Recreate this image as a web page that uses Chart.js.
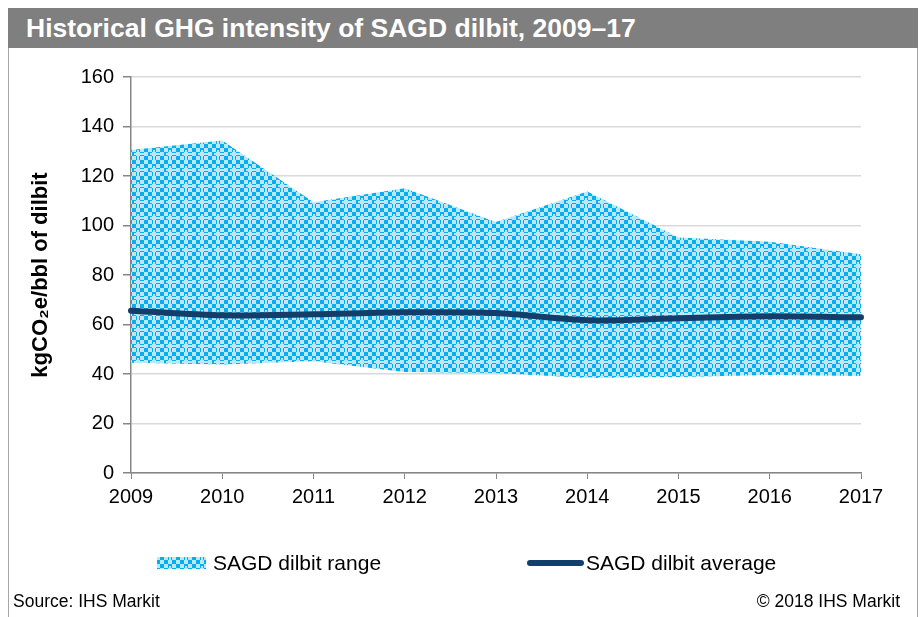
<!DOCTYPE html>
<html lang="en">
<head>
<meta charset="UTF-8">
<title>Historical GHG intensity of SAGD dilbit, 2009–17</title>
<script src="https://cdn.jsdelivr.net/npm/chart.js"></script>
<style>
  body { margin: 0; background: #fff; font-family: "Liberation Sans", Arial, sans-serif; }
  .quadro { position: relative; width: 921px; height: 617px; overflow: hidden; }
  .borda { position: absolute; left: 8px; top: 48px; width: 910px; bottom: 0; border-left: 1px solid #a6a6a6; border-right: 1px solid #a6a6a6; box-sizing: border-box; }
  canvas { position: absolute; left: 0; top: 0; }
  .titulo { position: absolute; left: 8px; top: 8px; width: 910px; height: 40px; background: #7f7f7f; color: #fff; font-weight: bold; font-size: 26.5px; line-height: 41px; padding-left: 18px; box-sizing: border-box; }
  .fonte { position: absolute; left: 13px; top: 591px; font-size: 17.5px; }
  .copy { position: absolute; right: 21px; top: 591px; font-size: 17.5px; }
</style>
</head>
<body>
<div class="quadro">
  <div class="borda"></div>
  <canvas id="grafico" width="921" height="617"></canvas>
  <div class="titulo">Historical GHG intensity of SAGD dilbit, 2009–17</div>
  <div class="fonte">Source: IHS Markit</div>
  <div class="copy">© 2018 IHS Markit</div>
</div>

<script>
// data
const years = ['2009', '2010', '2011', '2012', '2013', '2014', '2015', '2016', '2017'];
const rangeHigh = [130.5, 134.3, 109.4, 115.1, 101.4, 113.7, 95.2, 93.4, 88.4];
const rangeLow = [44.5, 43.8, 45.2, 40.8, 40.4, 38.4, 38.8, 39.6, 39.2];
const average = [65.6, 63.7, 64.1, 64.9, 64.6, 61.7, 62.5, 63.3, 62.9];
const seriesNames = ['SAGD dilbit range', 'SAGD dilbit average'];

const avgColor = '#133e69';
const fontFam = '"Liberation Sans", Arial, sans-serif';

// checkerboard fill with small light crosses, like the Excel pattern
function makePattern() {
  const c = document.createElement('canvas');
  c.width = 16; c.height = 16;
  const g = c.getContext('2d');
  g.fillStyle = '#bde6f8';
  g.fillRect(0, 0, 16, 16);
  g.fillStyle = '#00b0f0';
  for (let y = 0; y < 4; y++) {
    for (let x = 0; x < 4; x++) {
      if ((x + y) % 2 === 1) g.fillRect(x * 4, y * 4, 4, 4);
    }
  }
  g.fillStyle = '#bde6f8';
  g.fillRect(6, 9, 14, 2);
  g.fillRect(9, 6, 2, 14);
  return g.createPattern(c, 'repeat');
}
const rangePattern = makePattern();

const customLegend = {
  id: 'customLegend',
  afterDraw(chart) {
    const ctx = chart.ctx;
    ctx.save();
    ctx.fillStyle = rangePattern;
    ctx.fillRect(157, 557, 49, 12);
    ctx.font = '21px ' + fontFam;
    ctx.fillStyle = '#000';
    ctx.textBaseline = 'middle';
    ctx.fillText(seriesNames[0], 213, 564);
    ctx.strokeStyle = avgColor;
    ctx.lineWidth = 6;
    ctx.lineCap = 'round';
    ctx.beginPath();
    ctx.moveTo(530, 563);
    ctx.lineTo(581, 563);
    ctx.stroke();
    ctx.fillText(seriesNames[1], 586, 564);
    ctx.restore();
  }
};

new Chart(document.getElementById('grafico'), {
  type: 'line',
  data: {
    labels: years,
    datasets: [
      {
        label: seriesNames[1],
        data: average,
        borderColor: avgColor,
        borderWidth: 6,
        borderCapStyle: 'round',
        pointRadius: 0,
        tension: 0.3,
        fill: false,
        order: 0
      },
      {
        label: seriesNames[0] + ' high',
        data: rangeHigh,
        borderWidth: 0,
        borderColor: 'rgba(0,0,0,0)',
        backgroundColor: rangePattern,
        pointRadius: 0,
        tension: 0,
        fill: '+1',
        order: 1
      },
      {
        label: seriesNames[0] + ' low',
        data: rangeLow,
        borderWidth: 0,
        borderColor: 'rgba(0,0,0,0)',
        pointRadius: 0,
        tension: 0,
        fill: false,
        order: 2
      }
    ]
  },
  options: {
    responsive: false,
    animation: false,
    layout: { padding: { left: 24, top: 77, right: 60, bottom: 104 } },
    plugins: {
      legend: { display: false },
      tooltip: { enabled: false }
    },
    scales: {
      x: {
        afterFit: (s) => { s.height = 40; },
        border: { color: '#868686', width: 1.5 },
        grid: { drawOnChartArea: false, tickColor: '#868686', tickLength: 6 },
        ticks: { color: '#000', font: { family: fontFam, size: 20 }, padding: 6, maxRotation: 0 }
      },
      y: {
        min: 0,
        max: 160,
        afterFit: (s) => { s.width = 107; },
        border: { color: '#868686', width: 1.5 },
        grid: { color: '#d9d9d9', lineWidth: 1.5, tickColor: '#868686', tickLength: 8 },
        ticks: { stepSize: 20, color: '#000', font: { family: fontFam, size: 20 }, padding: 9 },
        title: {
          display: true,
          text: 'kgCO₂e/bbl of dilbit',
          color: '#000',
          font: { family: fontFam, size: 22, weight: 'bold' }
        }
      }
    }
  },
  plugins: [customLegend]
});
</script>
</body>
</html>
